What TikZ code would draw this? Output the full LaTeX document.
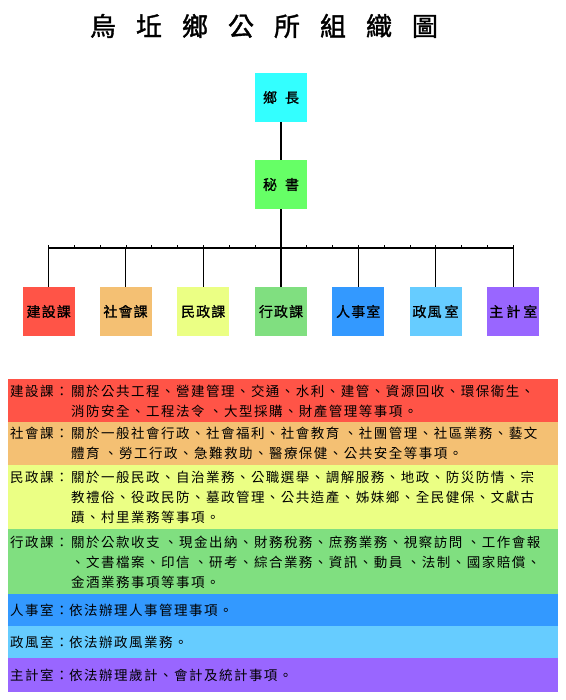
\documentclass[tikz,border=0pt]{standalone}
\usepackage{fontspec}
\newfontfamily\cjk{Noto Sans CJK TC}[LetterSpace=11]
\newfontfamily\cjkbox{Noto Sans CJK TC}[LetterSpace=8,FakeBold=1]
\newfontfamily\cjktitle{Noto Sans CJK TC}[FakeBold=1.5]
\definecolor{cHead}{HTML}{33FFFF}
\definecolor{cSec}{HTML}{66FF66}
\definecolor{cJian}{HTML}{FF5447}
\definecolor{cShe}{HTML}{F4C073}
\definecolor{cMin}{HTML}{EBFF84}
\definecolor{cXing}{HTML}{80DF80}
\definecolor{cRen}{HTML}{3399FF}
\definecolor{cZheng}{HTML}{66CCFF}
\definecolor{cZhu}{HTML}{9966FF}
\begin{document}
\begin{tikzpicture}[x=1pt,y=-1pt,
  unitbox/.style={minimum width=52pt,minimum height=49pt,inner sep=0pt,
    font=\cjkbox\fontsize{14}{14}\selectfont},
  conn/.style={line width=1.1pt,black},
  tickmark/.style={line width=0.9pt,black},
  rowtext/.style={anchor=west,inner sep=0pt,text height=11.9pt,text depth=1.6pt,
    font=\cjk\fontsize{13.5}{20}\selectfont}]
\useasboundingbox (0,0) rectangle (565,700);
\fill[white] (0,0) rectangle (565,700);

% title
\node[inner sep=0pt,font=\cjktitle\fontsize{26}{26}\selectfont] (title) at (264,26)
  {烏\hspace{20pt}坵\hspace{20pt}鄉\hspace{20pt}公\hspace{20pt}所\hspace{20pt}組\hspace{20pt}織\hspace{20pt}圖};

% top boxes
\node[unitbox,fill=cHead] (head) at (281,97.5) {鄉\hspace{8pt}長};
\node[unitbox,fill=cSec] (sec) at (281,184.5) {秘\hspace{8pt}書};

% unit boxes
\node[unitbox,fill=cJian] (b1) at (48.7,311.5) {建設課};
\node[unitbox,fill=cShe] (b2) at (125.5,311.5) {社會課};
\node[unitbox,fill=cMin] (b3) at (203.2,311.5) {民政課};
\node[unitbox,fill=cXing] (b4) at (281,311.5) {行政課};
\node[unitbox,fill=cRen] (b5) at (358.2,311.5) {人事室};
\node[unitbox,fill=cZheng] (b6) at (435.5,311.5) {政風\hspace{3pt}室};
\node[unitbox,fill=cZhu] (b7) at (513.3,311.5) {主\hspace{3pt}計\hspace{3pt}室};

\coordinate (bar) at (281,248);

% connectors
\draw[conn] (head.south) -- (sec.north);
\draw[conn] (sec.south) -- (sec.south |- bar);
\draw[conn] (b1.north |- bar) -- (b7.north |- bar);
\foreach \b in {b1,b2,b3,b4,b5,b6,b7}
  \draw[conn] (\b.north |- bar) -- (\b.north);
\foreach \i in {0,...,18}
  \draw[tickmark] (48.7+\i*25.81,248) -- ++(0,-2.6);

% table backgrounds
\fill[cJian]  (8,379) rectangle (558,422);
\fill[cShe]   (8,422) rectangle (558,465);
\fill[cMin]   (8,465) rectangle (558,529);
\fill[cXing]  (8,529) rectangle (558,594);
\fill[cRen]   (8,594) rectangle (558,626);
\fill[cZheng] (8,626) rectangle (558,658);
\fill[cZhu]   (8,658) rectangle (558,692);

% row 1
\node[rowtext] (l1) at (10,391.5) {建設課：};
\node[rowtext] (t1a) at (71,391.5) {關於公共工程、營建管理、交通、水利、建管、資源回收、環保衛生、};
\node[rowtext] (t1b) at (71,411.5) {消防安全、工程法令 、大型採購、財產管理等事項。};
% row 2
\node[rowtext] (l2) at (10,433.5) {社會課：};
\node[rowtext] (t2a) at (71,433.5) {關於一般社會行政、社會福利、社會教育 、社團管理、社區業務、藝文};
\node[rowtext] (t2b) at (71,453.5) {體育 、勞工行政、急難救助、醫療保健、公共安全等事項。};
% row 3
\node[rowtext] (l3) at (10,477) {民政課：};
\node[rowtext] (t3a) at (71,477) {關於一般民政、自治業務、公職選舉、調解服務、地政、防災防情、宗};
\node[rowtext] (t3b) at (71,497) {教禮俗、役政民防、墓政管理、公共造產、姊妹鄉、全民健保、文獻古};
\node[rowtext] (t3c) at (71,517) {蹟、村里業務等事項。};
% row 4
\node[rowtext] (l4) at (10,542) {行政課：};
\node[rowtext] (t4a) at (71,542) {關於公款收支 、現金出納、財務稅務、庶務業務、視察訪問 、工作會報};
\node[rowtext] (t4b) at (71,562) {、文書檔案、印信 、研考、綜合業務、資訊、動員 、法制、國家賠償、};
\node[rowtext] (t4c) at (71,582) {金酒業務事項等事項。};
% rows 5-7
\node[rowtext] (l5) at (10,610) {人事室：};
\node[rowtext] (t5) at (69,610) {依法辦理人事管理事項。};
\node[rowtext] (l6) at (10,642.5) {政風室：};
\node[rowtext] (t6) at (69,642.5) {依法辦政風業務。};
\node[rowtext] (l7) at (10,675) {主計室：};
\node[rowtext] (t7) at (69,675) {依法辦理歲計、會計及統計事項。};
\end{tikzpicture}
\end{document}
